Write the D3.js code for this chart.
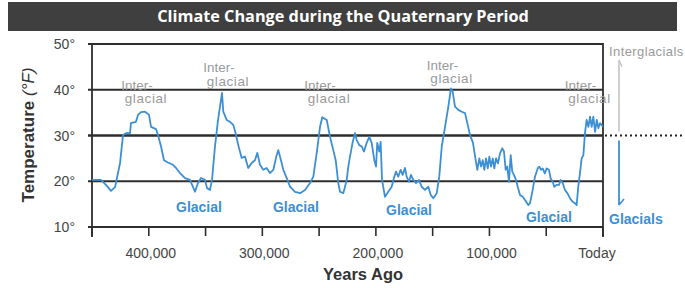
<!DOCTYPE html>
<html><head><meta charset="utf-8">
<script src="https://cdn.jsdelivr.net/npm/d3@7"></script>
<style>body{margin:0;background:#fff}svg{display:block}</style>
</head><body><svg id="c" width="685" height="288"></svg>
<script>
// thousands of years ago
const kyrAgo = [450.0,442.1,437.7,433.3,429.7,425.3,422.7,420.1,416.5,415.7,411.3,409.5,406.9,403.3,399.8,398.0,393.6,391.9,389.2,386.6,383.1,378.7,376.0,372.5,368.1,363.7,359.3,356.7,354.0,350.5,348.7,346.1,344.3,341.7,339.0,336.4,335.5,334.4,331.4,328.5,325.6,323.5,321.2,318.2,315.3,312.4,309.4,306.5,304.4,302.1,299.2,296.2,293.3,290.3,287.4,285.9,283.6,281.5,278.5,275.6,271.2,266.8,262.4,258.0,255.1,252.1,249.2,247.2,243.3,240.4,237.5,235.4,233.1,231.6,228.7,227.2,225.7,224.3,222.8,220.4,218.4,216.9,214.6,212.5,210.5,208.1,205.8,203.7,201.4,199.9,198.8,197.0,195.8,194.6,192.0,189.1,186.1,184.1,182.3,180.3,178.2,176.4,174.4,172.9,170.8,169.1,167.1,164.7,162.0,159.7,156.8,153.8,151.7,149.4,146.4,144.2,142.0,139.1,136.2,133.9,132.4,130.3,127.4,124.4,121.5,119.5,117.1,114.5,112.7,110.7,108.9,107.4,105.9,104.5,103.0,101.5,100.1,98.6,97.1,95.7,94.2,92.5,90.7,88.7,87.2,85.7,84.3,82.8,81.3,79.9,78.4,76.6,75.1,73.1,70.7,68.7,65.8,64.3,61.9,59.9,57.5,56.1,54.6,53.1,51.3,49.6,47.6,46.1,44.3,42.9,40.8,38.7,37.3,35.5,33.5,31.4,29.1,26.7,24.7,23.2,21.8,20.3,18.8,17.3,15.9,14.4,12.9,11.4,10.0,8.5,7.0,5.5,4.1,2.6,0.0];
// temperature, degrees F
const tempF = [20.3,20.3,19.2,17.9,18.7,24.0,30.1,30.5,30.5,32.7,33.0,34.5,35.1,35.2,34.5,31.9,31.4,30.1,27.6,24.6,24.1,23.6,22.9,21.8,20.7,20.3,17.7,19.6,20.7,20.3,18.5,18.1,20.3,27.6,33.4,37.8,39.3,35.2,33.4,33.0,32.3,30.5,27.9,25.1,25.4,22.9,24.0,24.6,26.2,23.6,22.5,22.9,21.8,22.5,25.7,26.8,24.6,22.5,20.7,18.8,17.7,17.4,18.1,19.6,21.0,26.2,31.9,34.0,33.4,29.7,26.8,24.6,19.6,17.7,17.4,18.8,20.3,23.2,25.4,28.6,30.5,29.0,27.9,27.6,26.5,28.4,29.7,28.4,24.6,23.2,28.4,26.5,28.6,20.3,16.6,17.7,18.8,20.7,22.1,21.0,22.5,21.4,22.9,21.0,19.9,21.4,20.3,19.6,20.3,18.8,18.1,18.8,17.0,16.3,17.4,21.0,27.6,31.9,36.3,40.3,39.6,36.3,35.6,35.2,34.9,32.7,30.1,28.4,25.5,22.5,25.0,23.2,24.6,22.5,25.0,22.8,25.4,23.2,25.0,22.8,25.0,23.9,26.1,27.2,26.5,22.5,23.2,19.9,25.7,22.1,21.4,20.3,18.8,17.0,16.6,15.9,14.8,15.2,18.1,21.0,22.8,23.2,22.5,22.8,21.7,22.8,22.5,20.6,19.9,18.8,19.2,19.2,20.3,19.6,18.1,17.4,16.3,15.5,15.2,14.8,18.8,21.7,25.0,25.7,30.5,33.4,31.9,34.1,31.9,34.1,30.8,33.4,31.6,32.7,31.9];

const yTicks = [10, 20, 30, 40, 50];
const xTicks = [450, 400, 350, 300, 250, 200, 150, 100, 50, 0];
const xTickLabels = {400: "400,000", 300: "300,000", 200: "200,000", 100: "100,000", 0: "Today"};
const titleText = "Climate Change during the Quaternary Period";
const interglacialAnchors = [406.0, 333.8, 244.8, 136.9, 15.4];
const interglacialTemps = [40.0, 43.8, 40.0, 44.4, 40.0];
const glacialAnchors = [355.8, 270.4, 170.8, 47.6];
const glacialTemps = [13.3, 13.3, 12.6, 11.1];

const svg = d3.select("#c");
const FONT = "'Liberation Sans', Arial, sans-serif";
const blue = "#3d8fd3";
const grid = "#2e2e2e";

const x = d3.scaleLinear().domain([450, 0]).range([92, 603]);
const y = d3.scaleLinear().domain([10, 50]).range([227, 44]);

// title bar
svg.append("rect").attr("x", 8).attr("y", 2).attr("width", 669).attr("height", 29).attr("fill", "#3f3f3f");
const tt = svg.append("text").attr("x", 343).attr("y", 22).attr("text-anchor", "middle")
  .attr("fill", "#fff").attr("font-family", "'Open Sans', sans-serif").attr("font-weight", 700)
  .attr("font-size", 16).text(titleText);
const tl = tt.node().getComputedTextLength();
tt.attr("font-size", 16 * 372 / tl);

// gridlines
svg.append("g").selectAll("line").data(yTicks).join("line")
  .attr("x1", 88).attr("x2", x(0)).attr("y1", d => y(d)).attr("y2", d => y(d))
  .attr("stroke", grid).attr("stroke-width", d => d === 30 ? 2.4 : 1.8);
// y labels
svg.append("g").selectAll("text").data(yTicks).join("text")
  .attr("x", 75).attr("y", d => y(d) + 5).attr("text-anchor", "end")
  .attr("font-family", FONT).attr("font-size", 14).attr("fill", "#444")
  .text(d => d + "°");

// left and right borders
svg.append("line").attr("x1", x(450)).attr("x2", x(450)).attr("y1", y(50) - 1).attr("y2", y(10) + 10)
  .attr("stroke", grid).attr("stroke-width", 1.8);
svg.append("line").attr("x1", x(0)).attr("x2", x(0)).attr("y1", y(50) - 1).attr("y2", y(10) + 10)
  .attr("stroke", grid).attr("stroke-width", 1.8);
// x ticks
svg.append("g").selectAll("line").data(xTicks).join("line")
  .attr("x1", d => x(d)).attr("x2", d => x(d)).attr("y1", y(10)).attr("y2", y(10) + 9)
  .attr("stroke", grid).attr("stroke-width", 1.6);
svg.append("g").selectAll("text").data(xTicks.filter(d => xTickLabels[d])).join("text")
  .attr("x", d => x(d) + (d === 0 ? -6 : 2)).attr("y", 258).attr("text-anchor", "middle")
  .attr("font-family", FONT).attr("font-size", 14).attr("fill", "#444")
  .text(d => xTickLabels[d]);

// dotted 30 line to the right
svg.append("line").attr("x1", x(0) + 2).attr("x2", 685).attr("y1", y(30)).attr("y2", y(30))
  .attr("stroke", "#222").attr("stroke-width", 2).attr("stroke-dasharray", "2,3");

// curve
const data = kyrAgo.map((k, i) => [k, tempF[i]]);
svg.append("path").datum(data)
  .attr("d", d3.line().x(d => x(d[0])).y(d => y(d[1])))
  .attr("fill", "none").attr("stroke", blue).attr("stroke-width", 1.8).attr("stroke-linejoin", "round");

// interglacial labels
interglacialAnchors.forEach((k, i) => {
  svg.append("text").attr("font-family", FONT).attr("font-size", 13.5).attr("fill", "#9a9a9a").attr("text-anchor", "middle")
    .attr("x", x(k) - 5).attr("y", y(interglacialTemps[i])).text("Inter-");
  svg.append("text").attr("font-family", FONT).attr("font-size", 13.5).attr("fill", "#9a9a9a").attr("text-anchor", "middle")
    .attr("x", x(k) + 4).attr("y", y(interglacialTemps[i]) + 13.5).attr("letter-spacing", 0.6).text("glacial");
});
// glacial labels
glacialAnchors.forEach((k, i) => {
  svg.append("text").attr("x", x(k)).attr("y", y(glacialTemps[i])).attr("text-anchor", "middle")
    .attr("font-family", FONT).attr("font-size", 14).attr("font-weight", 700).attr("fill", blue).text("Glacial");
});

// right annotations
const ax = x(0) + 16;
svg.append("text").attr("x", x(0) + 6).attr("y", 56).attr("font-family", FONT).attr("font-size", 13)
  .attr("letter-spacing", 0.4).attr("fill", "#9a9a9a").text("Interglacials");
svg.append("line").attr("x1", ax).attr("x2", ax).attr("y1", y(30) - 4).attr("y2", 60).attr("stroke", "#c4c4c4").attr("stroke-width", 1.6);
svg.append("line").attr("x1", ax).attr("x2", ax + 3).attr("y1", 60).attr("y2", 67).attr("stroke", "#c4c4c4").attr("stroke-width", 1.4);
svg.append("line").attr("x1", ax).attr("x2", ax).attr("y1", y(30) + 5).attr("y2", 205).attr("stroke", blue).attr("stroke-width", 1.8);
svg.append("line").attr("x1", ax).attr("x2", ax + 5).attr("y1", 205).attr("y2", 199).attr("stroke", blue).attr("stroke-width", 1.6);
svg.append("text").attr("x", x(0) + 6).attr("y", 224).attr("font-family", FONT).attr("font-size", 14)
  .attr("font-weight", 700).attr("fill", blue).text("Glacials");

// axis titles
svg.append("text").attr("x", 363).attr("y", 280).attr("text-anchor", "middle")
  .attr("font-family", FONT).attr("font-size", 16.5).attr("font-weight", 700).attr("fill", "#333").text("Years Ago");
const yl = svg.append("text").attr("transform", "translate(34,135) rotate(-90)").attr("text-anchor", "middle")
  .attr("font-family", FONT).attr("font-size", 17).attr("fill", "#333");
yl.append("tspan").attr("font-weight", 700).text("Temperature ");
yl.append("tspan").attr("font-style", "italic").text("(°F)");
</script></body></html>
